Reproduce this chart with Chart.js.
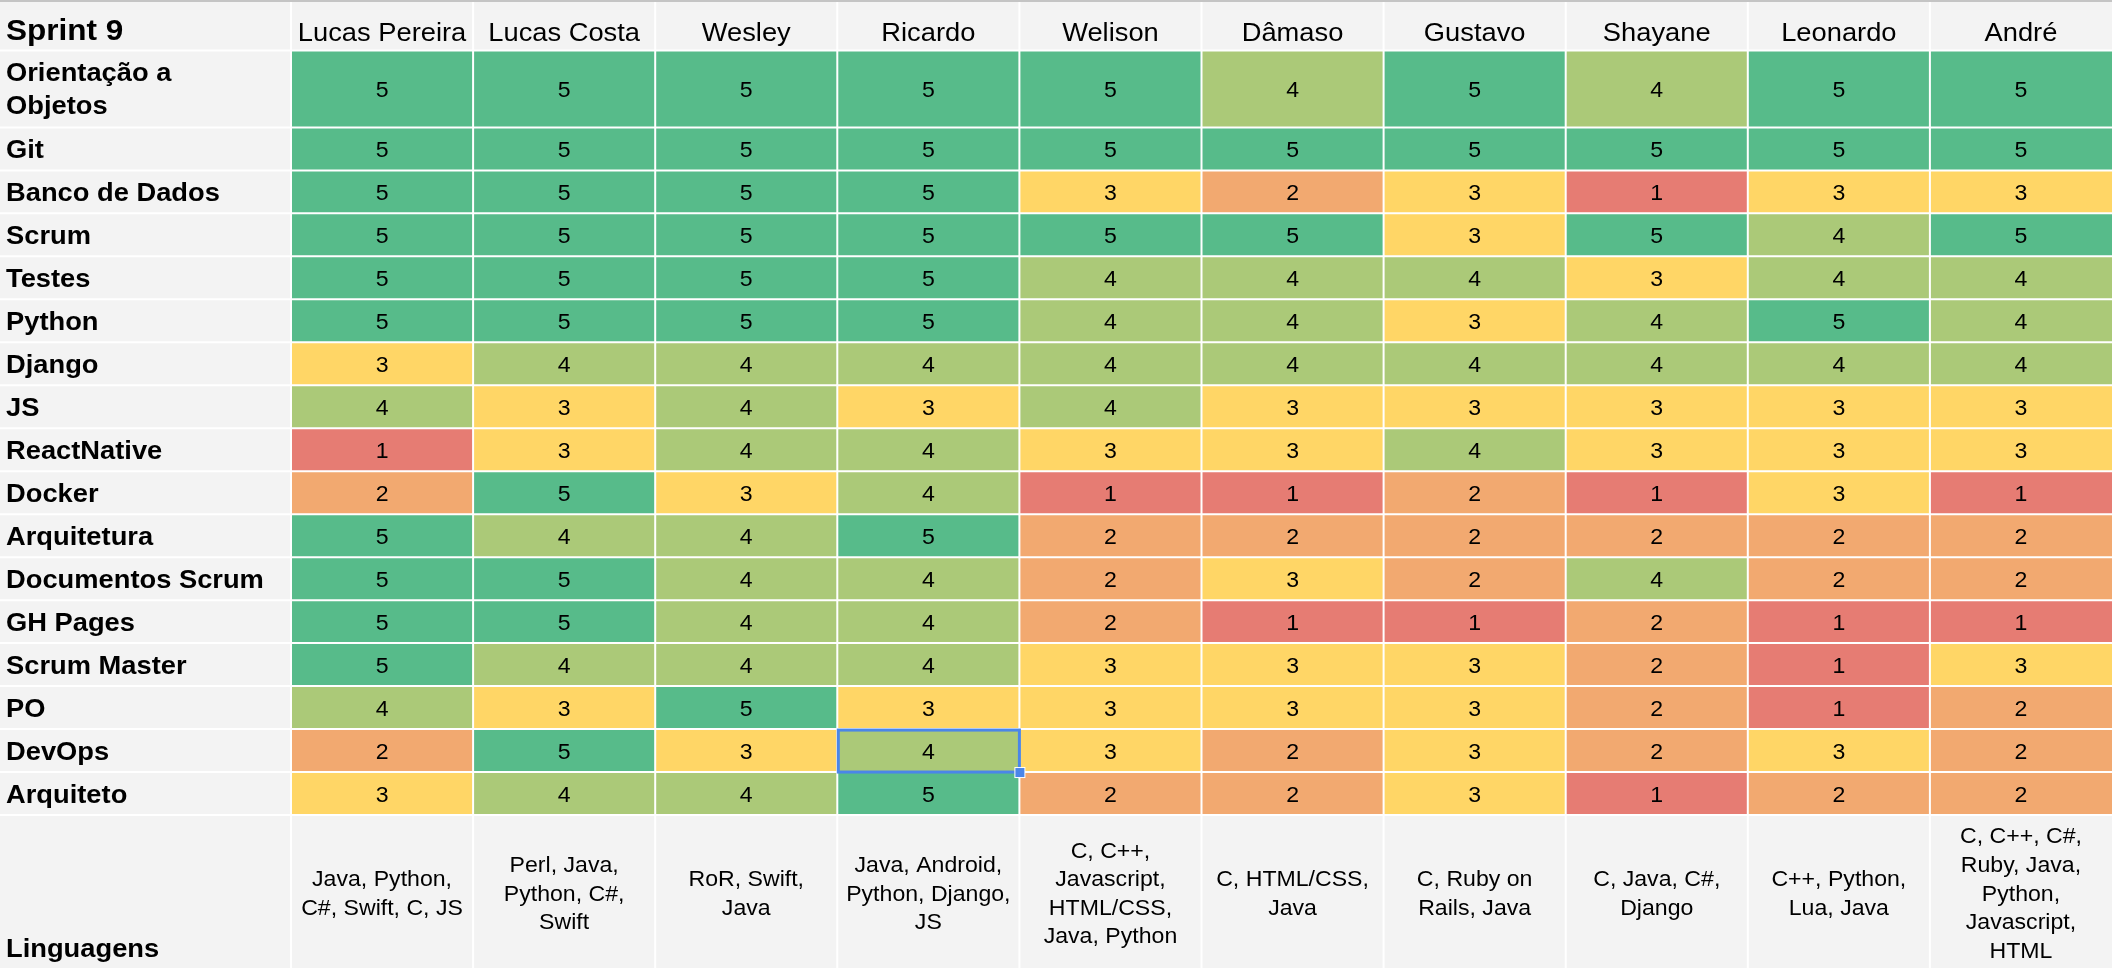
<!DOCTYPE html>
<html lang="pt-BR">
<head>
<meta charset="utf-8">
<title>Sprint 9</title>
<script src="https://cdn.jsdelivr.net/npm/chart.js@4.4.1/dist/chart.umd.min.js"></script>
<style>
  html, body { margin: 0; padding: 0; background: #f3f3f3; overflow: hidden; }
  canvas { display: block; }
</style>
</head>
<body>
<canvas id="myChart" width="2112" height="968"></canvas>
<script>
// dados da planilha --------------------------------------------------|
const titulo = 'Sprint 9';
const pessoas = ['Lucas Pereira', 'Lucas Costa', 'Wesley', 'Ricardo', 'Welison', 'Dâmaso', 'Gustavo', 'Shayane', 'Leonardo', 'André'];
const habilidades = ['Orientação a Objetos', 'Git', 'Banco de Dados', 'Scrum', 'Testes', 'Python', 'Django', 'JS', 'ReactNative',
    'Docker', 'Arquitetura', 'Documentos Scrum', 'GH Pages', 'Scrum Master', 'PO', 'DevOps', 'Arquiteto'];

// notas de cada pessoa, na ordem de "habilidades"
const lucasPereira = [5, 5, 5, 5, 5, 5, 3, 4, 1, 2, 5, 5, 5, 5, 4, 2, 3];
const lucasCosta   = [5, 5, 5, 5, 5, 5, 4, 3, 3, 5, 4, 5, 5, 4, 3, 5, 4];
const wesley       = [5, 5, 5, 5, 5, 5, 4, 4, 4, 3, 4, 4, 4, 4, 5, 3, 4];
const ricardo      = [5, 5, 5, 5, 5, 5, 4, 3, 4, 4, 5, 4, 4, 4, 3, 4, 5];
const welison      = [5, 5, 3, 5, 4, 4, 4, 4, 3, 1, 2, 2, 2, 3, 3, 3, 2];
const damaso       = [4, 5, 2, 5, 4, 4, 4, 3, 3, 1, 2, 3, 1, 3, 3, 2, 2];
const gustavo      = [5, 5, 3, 3, 4, 3, 4, 3, 4, 2, 2, 2, 1, 3, 3, 3, 3];
const shayane      = [4, 5, 1, 5, 3, 4, 4, 3, 3, 1, 2, 4, 2, 2, 2, 2, 1];
const leonardo     = [5, 5, 3, 4, 4, 5, 4, 3, 3, 3, 2, 2, 1, 1, 1, 3, 2];
const andre        = [5, 5, 3, 5, 4, 4, 4, 3, 3, 1, 2, 2, 1, 3, 2, 2, 2];

const rotuloLinguagens = 'Linguagens';
const linguagens = [
    'Java, Python, C#, Swift, C, JS',
    'Perl, Java, Python, C#, Swift',
    'RoR, Swift, Java',
    'Java, Android, Python, Django, JS',
    'C, C++, Javascript, HTML/CSS, Java, Python',
    'C, HTML/CSS, Java',
    'C, Ruby on Rails, Java',
    'C, Java, C#, Django',
    'C++, Python, Lua, Java',
    'C, C++, C#, Ruby, Java, Python, Javascript, HTML'
];

// celula selecionada na planilha (DevOps / Ricardo)
const selecionada = { habilidade: 'DevOps', pessoa: 'Ricardo' };

const colunas = [lucasPereira, lucasCosta, wesley, ricardo, welison, damaso, gustavo, shayane, leonardo, andre];

// escala de cor 1 (vermelho) .. 5 (verde)
const coresNota = { 1: '#e67c73', 2: '#f2a970', 3: '#ffd666', 4: '#abc978', 5: '#57bb8a' };

// altura das linhas, em linhas "normais"
const alturas = habilidades.map(h => h === 'Orientação a Objetos' ? 1.79 : 1);
const alturaLinguagens = 3.56;
const topos = [0];
alturas.forEach((a, i) => topos.push(topos[i] + a));
const topoLinguagens = topos[habilidades.length];
const total = topoLinguagens + alturaLinguagens;

const ESTICA = 1.05; // a fonte do print e um pouco mais larga
const FONTE = '"Liberation Sans", Arial, sans-serif';

function fonte(tam, negrito) {
    return (negrito ? 'bold ' : '') + tam + 'px ' + FONTE;
}

function escreve(ctx, str, px, py, tam, negrito, alinha) {
    ctx.save();
    ctx.translate(px, py);
    ctx.scale(ESTICA, 1);
    ctx.font = fonte(tam, negrito);
    ctx.textAlign = alinha || 'center';
    ctx.textBaseline = 'alphabetic';
    ctx.fillStyle = '#000000';
    ctx.fillText(str, 0, 0);
    ctx.restore();
}

// quebra o texto como a planilha faz
function quebra(ctx, str, tam, negrito, maxLarg) {
    ctx.save();
    ctx.font = fonte(tam, negrito);
    const linhas = [];
    let atual = '';
    str.split(' ').forEach(p => {
        const teste = atual ? atual + ' ' + p : p;
        if (atual && ctx.measureText(teste).width * ESTICA > maxLarg) {
            linhas.push(atual);
            atual = p;
        } else {
            atual = teste;
        }
    });
    linhas.push(atual);
    ctx.restore();
    return linhas;
}

const pintaPlanilha = {
    id: 'pintaPlanilha',
    afterDatasetsDraw(chart) {
        const ctx = chart.ctx;
        const area = chart.chartArea;
        const xs = chart.scales.x;
        const ys = chart.scales.y;
        const larg = (area.right - area.left) / pessoas.length;

        // grade branca
        ctx.save();
        ctx.strokeStyle = '#ffffff';
        ctx.lineWidth = 2;
        ctx.beginPath();
        topos.forEach(t => {
            const py = ys.getPixelForValue(t);
            ctx.moveTo(0, py);
            ctx.lineTo(chart.width, py);
        });
        pessoas.forEach((p, j) => {
            const px = xs.getPixelForValue(j) - larg / 2;
            ctx.moveTo(px, 0);
            ctx.lineTo(px, chart.height);
        });
        ctx.stroke();
        // borda cinza do topo
        ctx.fillStyle = '#c4c4c4';
        ctx.fillRect(0, 0, chart.width, 2);
        ctx.restore();

        // cabecalho
        escreve(ctx, titulo, 6, area.top - 11, 30, true, 'left');
        pessoas.forEach((p, j) => escreve(ctx, p, xs.getPixelForValue(j), area.top - 10, 26, false));

        // rotulos das linhas + notas
        habilidades.forEach((h, i) => {
            const yc = ys.getPixelForValue(topos[i] + alturas[i] / 2);
            const linhas = quebra(ctx, h, 26, true, 266);
            const alt = 33;
            linhas.forEach((l, k) => {
                const py = yc + 9 + (k - (linhas.length - 1) / 2) * alt;
                escreve(ctx, l, 6, py, 26, true, 'left');
            });
            colunas.forEach((c, j) => escreve(ctx, String(c[i]), xs.getPixelForValue(j), yc + 8, 22, false));
        });

        // linha das linguagens
        escreve(ctx, rotuloLinguagens, 6, chart.height - 11, 26, true, 'left');
        const ycL = ys.getPixelForValue(topoLinguagens + alturaLinguagens / 2);
        linguagens.forEach((txt, j) => {
            const linhas = quebra(ctx, txt, 22, false, 168);
            const alt = 28.6;
            linhas.forEach((l, k) => {
                const py = ycL + 9 + (k - (linhas.length - 1) / 2) * alt;
                escreve(ctx, l, xs.getPixelForValue(j), py, 22, false);
            });
        });

        // selecao azul
        const i = habilidades.indexOf(selecionada.habilidade);
        const j = pessoas.indexOf(selecionada.pessoa);
        const x0 = xs.getPixelForValue(j) - larg / 2;
        const y0 = ys.getPixelForValue(topos[i]);
        const y1 = ys.getPixelForValue(topos[i + 1]);
        ctx.save();
        ctx.strokeStyle = '#4a86e8';
        ctx.lineWidth = 3;
        ctx.strokeRect(x0 + 1, y0 + 1, larg - 1, y1 - y0 - 1);
        ctx.fillStyle = '#ffffff';
        ctx.fillRect(x0 + larg - 5, y1 - 5, 11, 11);
        ctx.fillStyle = '#4a86e8';
        ctx.fillRect(x0 + larg - 4, y1 - 4, 9, 9);
        ctx.restore();
    }
};

const ctx = document.getElementById('myChart');
var myChart = new Chart(ctx, {
    type: 'bar',
    data: {
        labels: pessoas,
        datasets: habilidades.map((h, i) => ({
            label: h,
            data: pessoas.map(() => [topos[i], topos[i + 1]]),
            backgroundColor: colunas.map(c => coresNota[c[i]]),
            borderWidth: 0,
            barPercentage: 1,
            categoryPercentage: 1,
            grouped: false
        }))
    },
    options: {
        responsive: false,
        animation: false,
        events: [],
        layout: { padding: { left: 291, top: 50.5, right: 0, bottom: 0 } },
        plugins: {
            legend: { display: false },
            tooltip: { enabled: false }
        },
        scales: {
            x: { type: 'category', display: false, offset: true },
            y: { type: 'linear', display: false, reverse: true, min: 0, max: total }
        }
    },
    plugins: [pintaPlanilha]
});
</script>
</body>
</html>
